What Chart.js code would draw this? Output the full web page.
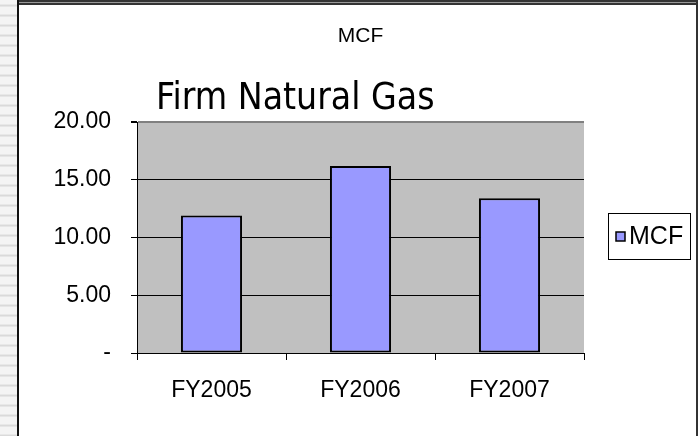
<!DOCTYPE html>
<html>
<head>
<meta charset="utf-8">
<script src="https://cdn.jsdelivr.net/npm/chart.js@4/dist/chart.umd.min.js"></script>
<style>
    body { margin: 0; width: 700px; height: 436px; overflow: hidden; background: #fff; position: relative; }
    .stripes {
        position: absolute; left: 0; top: 0; width: 17px; height: 436px;
        background: repeating-linear-gradient(to bottom, #f4f4f4 0px, #f4f4f4 4px, #dcdcdc 5px, #d8d8d8 6px, #f4f4f4 7px, #f4f4f4 10px);
    }
    .frame {
        position: absolute; left: 17px; top: 0; width: 681px; height: 436px;
        border-left: 2px solid #111; border-right: 2px solid #333;
        box-sizing: border-box;
    }
    .frame::before {
        content: ''; position: absolute; left: 0; right: 0; top: 0; height: 5px;
        background: linear-gradient(to bottom, #333 0px, #333 2px, #999 2px, #999 3px, #333 3px, #333 5px);
    }
    #chart { position: absolute; left: 0; top: 0; }
</style>
</head>
<body>
<div class="stripes"></div>
<div class="frame"></div>
<canvas id="chart" width="700" height="436"></canvas>
<script>
// MCF（天然ガス）の年度別データ
const categories = ['FY2005', 'FY2006', 'FY2007'];
const mcfValues = [11.9, 16.2, 13.4];
const yTicks = [0, 5, 10, 15, 20];
const seriesLabel = 'MCF';
const chartTitle = 'MCF';
const slideTitle = 'Firm Natural Gas';

const SANS = "'Liberation Sans', Arial, sans-serif";

// プロットエリアの背景
const plotBackground = {
    id: 'plotBackground',
    beforeDraw(chart) {
        const { ctx, chartArea } = chart;
        ctx.save();
        ctx.fillStyle = '#c0c0c0';
        ctx.fillRect(chartArea.left, chartArea.top, chartArea.right - chartArea.left, chartArea.bottom - chartArea.top);
        ctx.restore();
    }
};

// スライドの大見出しと枠付きの凡例
const extras = {
    id: 'extras',
    afterDraw(chart) {
        const { ctx } = chart;
        ctx.save();
        ctx.fillStyle = '#000';
        ctx.font = "37px 'DejaVu Sans Condensed', 'DejaVu Sans', sans-serif";
        ctx.textBaseline = 'alphabetic';
        ctx.textAlign = 'left';
        ctx.fillText(slideTitle, 156, 109);

        // 凡例
        ctx.fillStyle = '#fff';
        ctx.strokeStyle = '#000';
        ctx.lineWidth = 1;
        ctx.fillRect(608.5, 213.5, 82, 46);
        ctx.strokeRect(608.5, 213.5, 82, 46);
        const ds = chart.data.datasets[0];
        ctx.fillStyle = ds.backgroundColor;
        ctx.fillRect(616, 232, 9, 9);
        ctx.lineWidth = 1.5;
        ctx.strokeRect(616, 232, 9, 9);
        ctx.fillStyle = '#000';
        ctx.font = '25px ' + SANS;
        ctx.textBaseline = 'middle';
        ctx.fillText(ds.label, 629, 237);
        ctx.restore();
    }
};

new Chart(document.getElementById('chart'), {
    type: 'bar',
    data: {
        labels: categories,
        datasets: [{
            label: seriesLabel,
            data: mcfValues,
            backgroundColor: '#9999ff',
            borderColor: '#000',
            borderWidth: 2,
            borderSkipped: false,
            barPercentage: 0.41,
            categoryPercentage: 1
        }]
    },
    options: {
        responsive: false,
        animation: false,
        layout: { padding: { left: 0, right: 116, top: 0, bottom: 0 } },
        plugins: {
            legend: { display: false },
            tooltip: { enabled: false },
            title: {
                display: true,
                text: chartTitle,
                fullSize: false,
                color: '#000',
                font: { family: SANS, size: 21, weight: 'normal' },
                padding: { top: 24, bottom: 72.8 }
            }
        },
        scales: {
            x: {
                afterFit(scale) { scale.height = 83; },
                grid: {
                    offset: true,
                    drawOnChartArea: true,
                    drawTicks: true,
                    tickLength: 7,
                    tickColor: '#000',
                    color: ctx => ctx.index === categories.length ? '#808080' : 'rgba(0,0,0,0)',
                    lineWidth: ctx => ctx.index === categories.length ? 2 : 1
                },
                border: { color: '#000', width: 1 },
                ticks: {
                    color: '#000',
                    padding: 17,
                    font: { family: SANS, size: 23 }
                }
            },
            y: {
                min: 0,
                max: 20,
                afterFit(scale) { scale.width = 137; },
                afterBuildTicks(scale) { scale.ticks = yTicks.map(v => ({ value: v })); },
                grid: {
                    tickLength: 6,
                    tickColor: '#000',
                    color: ctx => ctx.tick && ctx.tick.value === 20 ? '#808080' : '#000',
                    lineWidth: ctx => ctx.tick && ctx.tick.value === 20 ? 2 : 1
                },
                border: { color: '#000', width: 1 },
                ticks: {
                    color: '#000',
                    padding: 20,
                    font: { family: SANS, size: 23 },
                    callback: v => v === 0 ? '-' : Number(v).toFixed(2)
                }
            }
        }
    },
    plugins: [plotBackground, extras]
});
</script>
</body>
</html>
